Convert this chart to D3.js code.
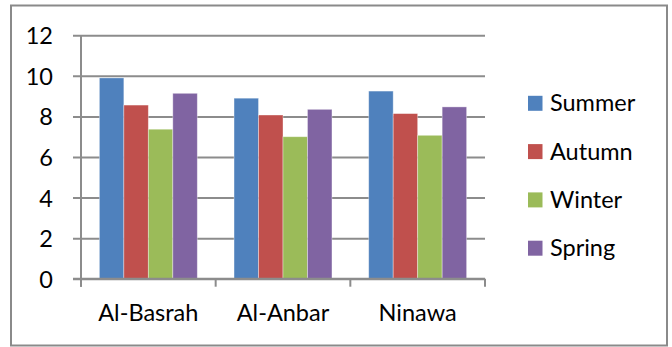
<!DOCTYPE html>
<html>
<head>
<meta charset="utf-8">
<script src="https://cdn.jsdelivr.net/npm/d3@7"></script>
<style>
  body { margin: 0; background: #fff; }
  text { font-family: Lato, "Open Sans", sans-serif; fill: #000; }
</style>
</head>
<body>
<div id="chart"></div>
<script>
// data
const regions = ["Al-Basrah", "Al-Anbar", "Ninawa"];
const seasons = ["Summer", "Autumn", "Winter", "Spring"];
const summer = [9.9, 8.9, 9.25];
const autumn = [8.56, 8.07, 8.14];
const winter = [7.37, 7.0, 7.07];
const spring = [9.14, 8.35, 8.47];
const yTicks = [0, 2, 4, 6, 8, 10, 12];
const colors = ["#4F81BD", "#C0504D", "#9BBB59", "#8064A2"];

const series = [summer, autumn, winter, spring];
const rows = regions.map((r, i) => ({region: r, values: seasons.map((s, j) => ({season: s, value: series[j][i]}))}));

const width = 672, height = 347;
const plot = {left: 81, right: 485, top: 35.3, bottom: 278.7};
const fontSize = 23.5;

const svg = d3.select("#chart").append("svg")
    .attr("width", width)
    .attr("height", height);

// outer frame
svg.append("rect")
    .attr("x", 11).attr("y", 5.5)
    .attr("width", 656).attr("height", 340)
    .attr("fill", "none")
    .attr("stroke", "#8a8a8a")
    .attr("stroke-width", 2);

let x0 = d3.scaleBand()
    .domain(regions)
    .range([plot.left, plot.right])
    .paddingInner(0).paddingOuter(0);

let x1 = d3.scaleBand()
    .domain(seasons)
    .range([0, x0.bandwidth()])
    .paddingInner(0).paddingOuter(0.75);

let y = d3.scaleLinear()
    .domain([0, 12])
    .range([plot.bottom, plot.top]);

let color = d3.scaleOrdinal().domain(seasons).range(colors);

// gridlines + y labels (ticks stick out 8px left of the axis)
let gy = svg.append("g")
    .attr("transform", `translate(${plot.right},0)`)
    .call(d3.axisLeft(y).tickValues(yTicks).tickSize(plot.right - plot.left + 8).tickPadding(20));
gy.select(".domain").remove();
gy.selectAll(".tick line").attr("stroke", "#8c8c8c").attr("stroke-width", 2);
gy.selectAll(".tick text")
    .attr("font-size", fontSize)
    .attr("dy", "0.36em")
    .style("font-family", "Lato, sans-serif")
    .attr("fill", "#000");

// y axis line
svg.append("line")
    .attr("x1", plot.left).attr("x2", plot.left)
    .attr("y1", plot.top).attr("y2", plot.bottom + 8)
    .attr("stroke", "#8c8c8c").attr("stroke-width", 2);

// bars
let groups = svg.append("g").selectAll("g")
    .data(rows)
    .enter().append("g")
    .attr("transform", d => `translate(${x0(d.region)},0)`);

groups.selectAll("rect")
    .data(d => d.values)
    .enter().append("rect")
    .attr("x", d => x1(d.season))
    .attr("width", x1.bandwidth())
    .attr("y", d => y(d.value))
    .attr("height", d => y(0) - y(d.value))
    .attr("fill", d => color(d.season))
    .attr("stroke", "rgba(255,255,255,0.45)")
    .attr("stroke-width", 0.8);

// x axis: labels in band centres, ticks on band edges
let gx = svg.append("g")
    .attr("transform", `translate(0,${plot.bottom})`)
    .call(d3.axisBottom(x0).tickSize(0).tickPadding(0));
gx.select(".domain").remove();
gx.selectAll(".tick text")
    .attr("y", 42)
    .attr("dy", null)
    .attr("font-size", fontSize)
    .style("font-family", "Lato, sans-serif")
    .attr("fill", "#000");

let edges = regions.map(r => x0(r)).concat([plot.right]);
gx.selectAll(".edge")
    .data(edges)
    .enter().append("line")
    .attr("class", "edge")
    .attr("x1", d => d).attr("x2", d => d)
    .attr("y1", 0).attr("y2", 8)
    .attr("stroke", "#8c8c8c").attr("stroke-width", 2);

// zero line drawn over the bars
svg.append("line")
    .attr("x1", plot.left - 8).attr("x2", plot.right)
    .attr("y1", y(0)).attr("y2", y(0))
    .attr("stroke", "#8c8c8c").attr("stroke-width", 2);

// legend
let legend = svg.append("g").selectAll("g")
    .data(seasons)
    .enter().append("g")
    .attr("transform", (d, i) => `translate(528,${103.3 + i * 48.3})`);

legend.append("rect")
    .attr("x", 0).attr("y", -7.5)
    .attr("width", 14.5).attr("height", 15)
    .attr("fill", d => color(d));

legend.append("text")
    .attr("x", 22)
    .attr("y", 8)
    .attr("font-size", fontSize)
    .text(d => d);
</script>
</body>
</html>
